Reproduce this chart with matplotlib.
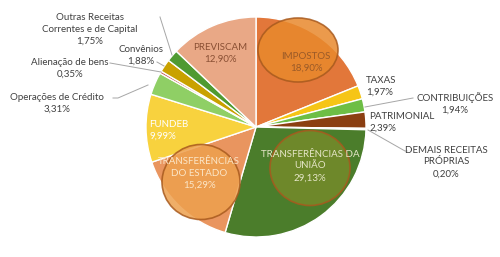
import matplotlib
matplotlib.use("Agg")
import matplotlib.pyplot as plt
from matplotlib.patches import Ellipse

plt.rcParams["font.family"] = ["Lato", "DejaVu Sans"]

categorias = [
    "IMPOSTOS", "TAXAS", "CONTRIBUIÇÕES", "PATRIMONIAL", "DEMAIS RECEITAS PRÓPRIAS",
    "TRANSFERÊNCIAS DA UNIÃO", "TRANSFERÊNCIAS DO ESTADO", "FUNDEB",
    "Operações de Crédito", "Alienação de bens", "Convênios",
    "Outras Receitas Correntes e de Capital", "PREVISCAM",
]
percentuais = [18.90, 1.97, 1.94, 2.39, 0.20, 29.13, 15.29, 9.99, 3.31, 0.35, 1.88, 1.75, 12.90]
cores = [
    "#E2773A", "#F6C516", "#6DBE45", "#8B3F12", "#E8C9A8",
    "#4B7D2B", "#E9955F", "#F8D23E", "#8FCF65", "#C0504D",
    "#C9A100", "#4F9A31", "#E9A886",
]

# centro e raio da pizza em pixels
CX, CY, R = 256, 127, 110
W, H = 500, 257


def px(x, y):
    # pixel -> coordenadas da pizza
    return (x - CX) / R, (CY - y) / R


fig = plt.figure(figsize=(5.0, 2.57), dpi=100)
ax = fig.add_axes([(CX - R) / W, (H - CY - R) / H, 2 * R / W, 2 * R / H])
ax.pie(percentuais, colors=cores, startangle=90, counterclock=False,
       wedgeprops={"edgecolor": "white", "linewidth": 1.0})
ax.set_xlim(-1, 1)
ax.set_ylim(-1, 1)
ax.axis("off")

# destaques (círculos)
destaques = [
    ((298, 50), 80, 64, "#E8892C"),
    ((310, 168), 80, 75, "#758A2A"),
    ((201, 182), 78, 75, "#EDA04E"),
]
for (x, y), w, h, cor in destaques:
    ax.add_patch(Ellipse(px(x, y), w / R, h / R, facecolor=cor, alpha=0.85,
                         edgecolor="#A85A1E", linewidth=1.2, clip_on=False, zorder=3))


def fmt(v):
    return f"{v:.2f}%".replace(".", ",")


cinza = "#404040"
fs = 7
# (texto, x, y, ha, cor)
rotulos = [
    ("IMPOSTOS\n" + fmt(percentuais[0]), 306, 62, "center", "#9A5A28"),
    ("TAXAS\n" + fmt(percentuais[1]), 366, 86, "left", cinza),
    ("CONTRIBUIÇÕES\n" + fmt(percentuais[2]), 455, 103, "center", cinza),
    ("PATRIMONIAL\n" + fmt(percentuais[3]), 369, 122, "left", cinza),
    ("DEMAIS RECEITAS\nPRÓPRIAS\n" + fmt(percentuais[4]), 446, 162, "center", cinza),
    ("TRANSFERÊNCIAS DA\nUNIÃO\n" + fmt(percentuais[5]), 310, 166, "center", "#E6E6C8"),
    ("TRANSFERÊNCIAS\nDO ESTADO\n" + fmt(percentuais[6]), 199, 173, "center", "#FBE6C8"),
    ("FUNDEB\n" + fmt(percentuais[7]), 149, 130, "left", "white"),
    ("Operações de Crédito\n" + fmt(percentuais[8]), 57, 103, "center", cinza),
    ("Alienação de bens\n" + fmt(percentuais[9]), 70, 68, "center", cinza),
    ("Convênios\n" + fmt(percentuais[10]), 141, 55, "center", cinza),
    ("Outras Receitas\nCorrentes e de Capital\n" + fmt(percentuais[11]), 90, 29, "center", cinza),
    ("PREVISCAM\n" + fmt(percentuais[12]), 220, 53, "center", "#8A5034"),
]
for txt, x, y, ha, cor in rotulos:
    ax.text(*px(x, y), txt, ha=ha, va="center", color=cor, fontsize=fs,
            linespacing=1.4, zorder=4, clip_on=False)

# linhas de chamada
linhas = [
    [(160, 17), (172, 55)],
    [(157, 62), (164, 66)],
    [(110, 63), (161, 72)],
    [(113, 98), (118, 98), (148, 85)],
    [(413, 98), (365, 107)],
    [(407, 151), (405, 151), (368, 130)],
]
for pts in linhas:
    xs, ys = zip(*[px(x, y) for x, y in pts])
    ax.plot(xs, ys, color="#A6A6A6", linewidth=0.7, clip_on=False, zorder=2)

fig.savefig("out.png", dpi=100)
